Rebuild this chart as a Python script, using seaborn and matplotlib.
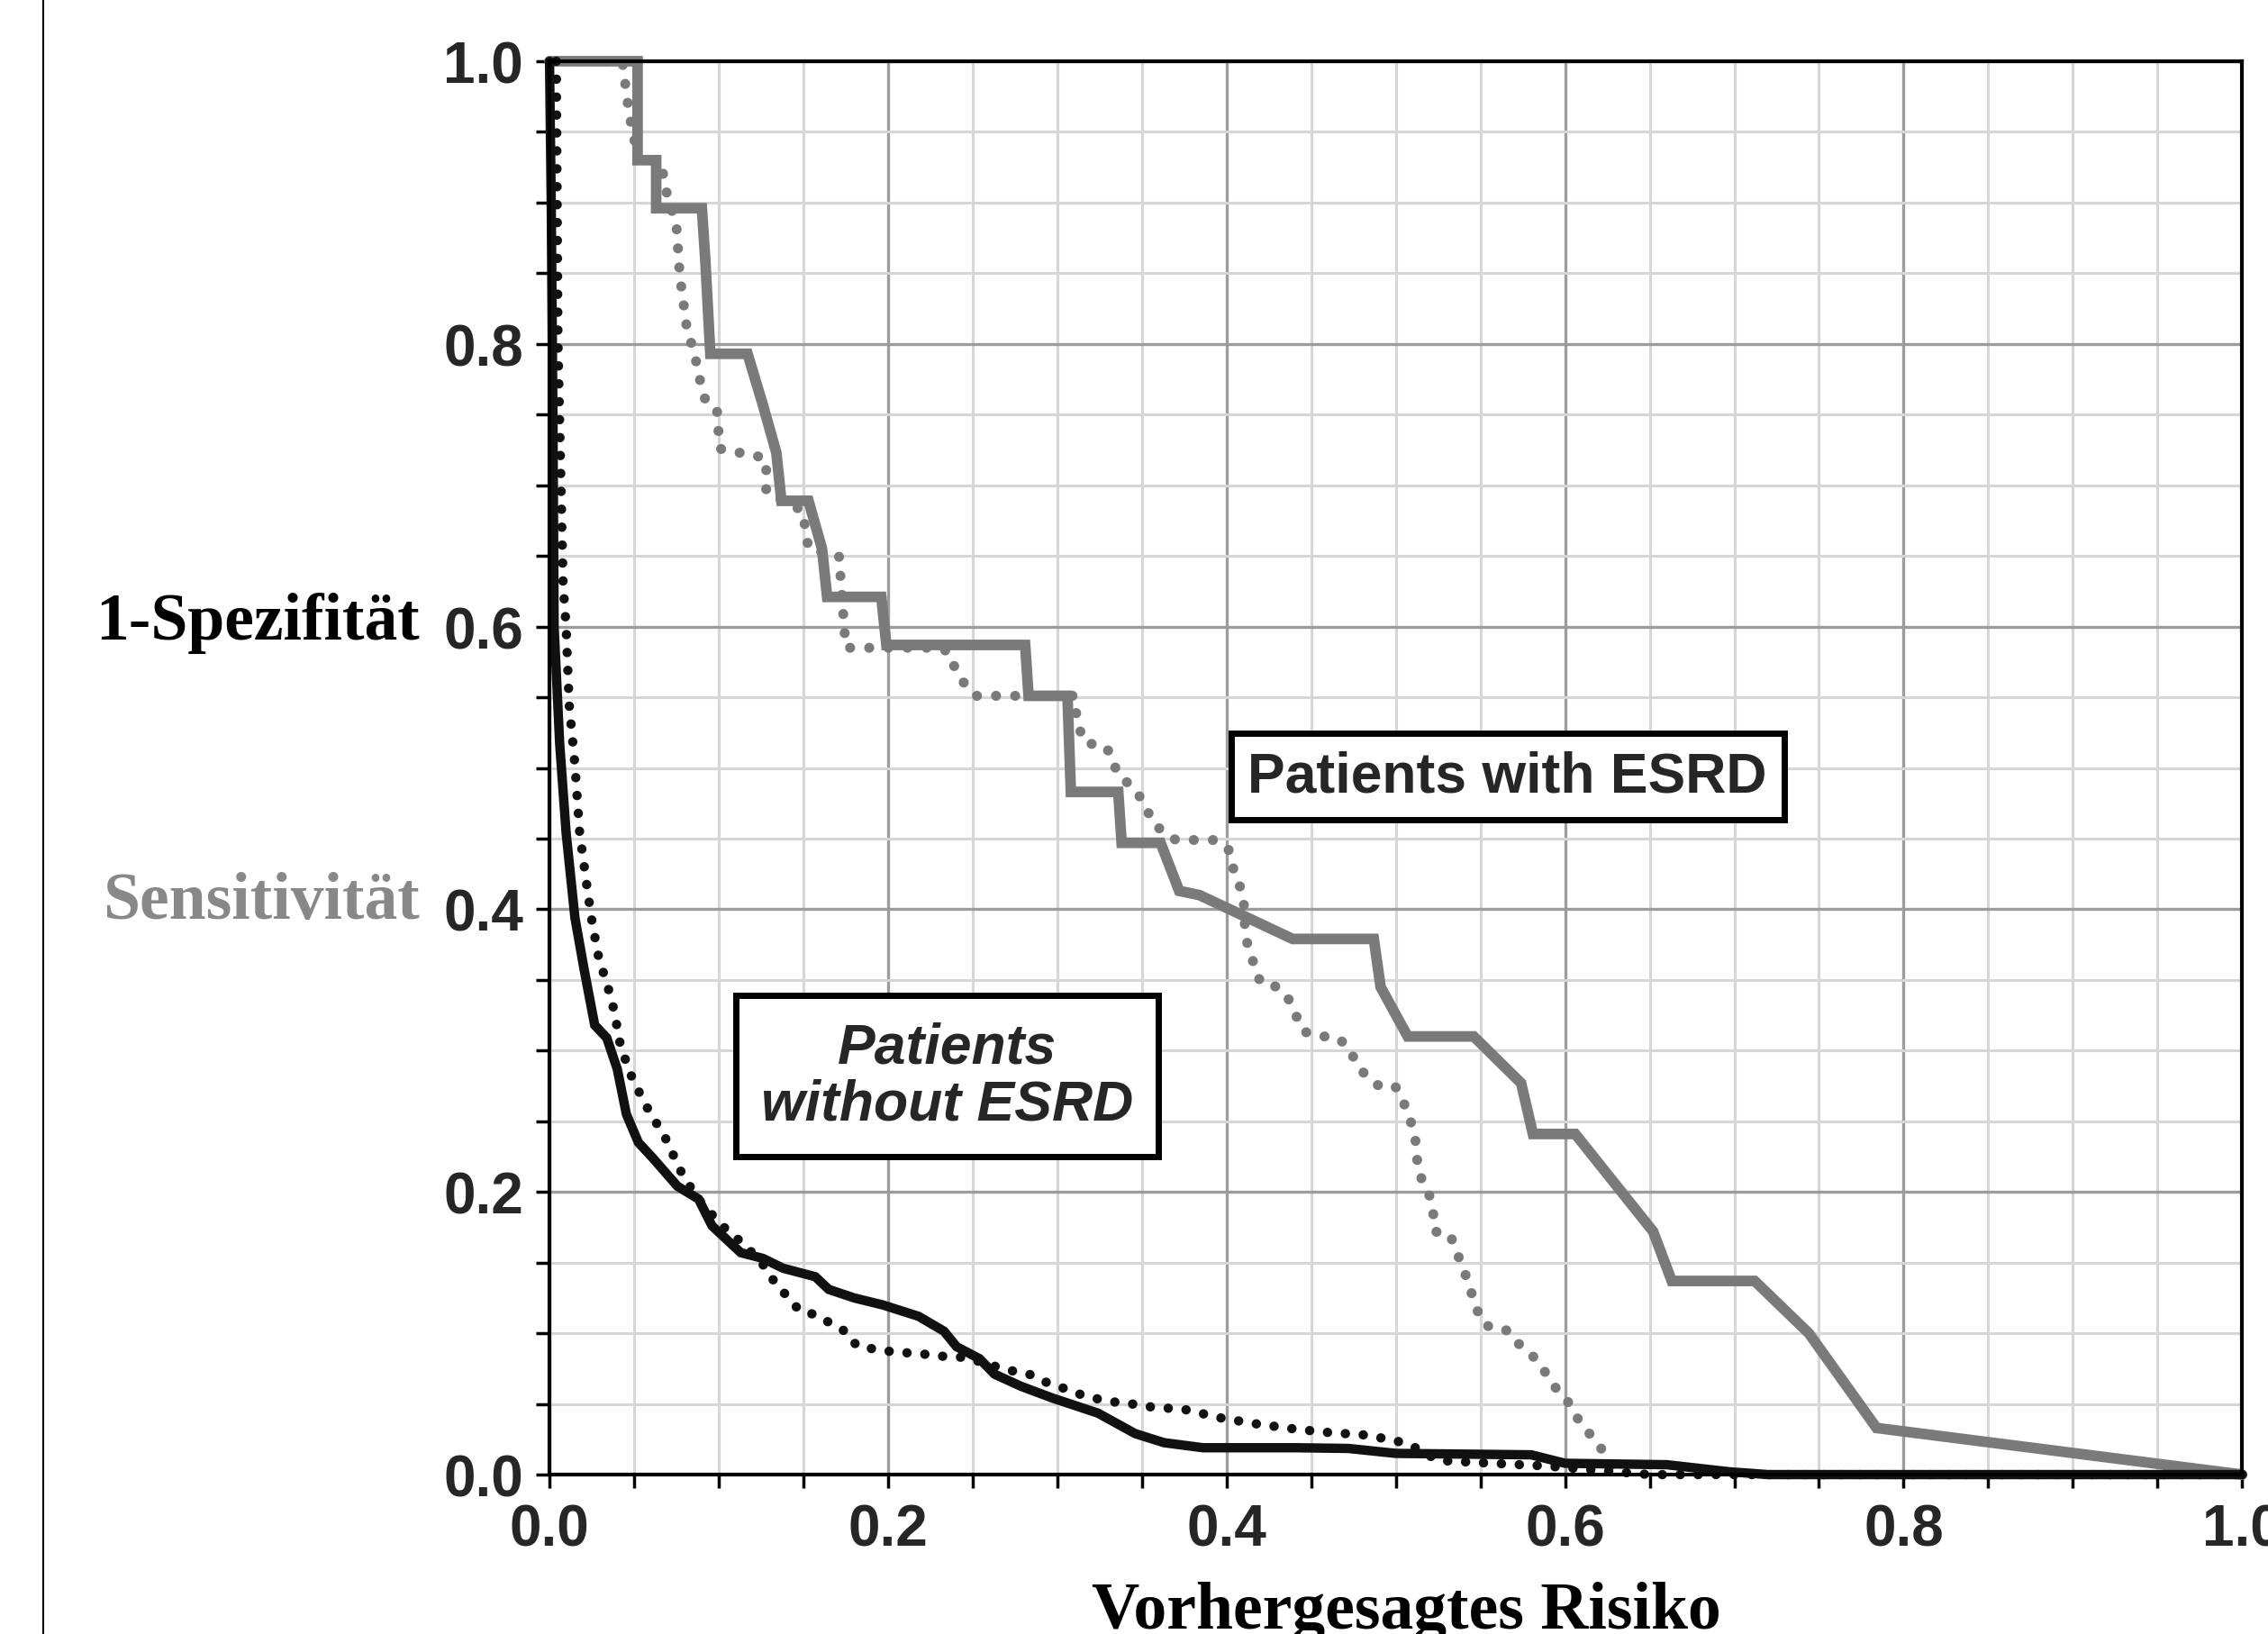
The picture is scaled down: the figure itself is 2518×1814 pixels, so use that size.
import numpy as np
import pandas as pd
import matplotlib
matplotlib.use("Agg")
import matplotlib.pyplot as plt
from matplotlib.lines import Line2D
from matplotlib.ticker import MultipleLocator
import seaborn as sns

# ---------- Data ----------
# gray solid: Sensitivität, model 1
sens1_x = [0, 0.052, 0.052, 0.063, 0.063, 0.090, 0.092, 0.095, 0.117, 0.126, 0.134, 0.137,
           0.153, 0.161, 0.164, 0.196, 0.199, 0.281, 0.283, 0.306, 0.308, 0.336, 0.338,
           0.361, 0.372, 0.384, 0.439, 0.487, 0.491, 0.507, 0.546, 0.574, 0.581, 0.606,
           0.632, 0.652, 0.663, 0.712, 0.744, 0.784, 1.0]
sens1_y = [1.0, 1.0, 0.930, 0.930, 0.896, 0.896, 0.860, 0.793, 0.793, 0.757, 0.723, 0.689,
           0.689, 0.655, 0.621, 0.621, 0.587, 0.587, 0.551, 0.551, 0.483, 0.483, 0.447,
           0.447, 0.413, 0.410, 0.379, 0.379, 0.345, 0.310, 0.310, 0.277, 0.241, 0.241,
           0.202, 0.172, 0.137, 0.137, 0.100, 0.033, 0.0]

# gray dotted: Sensitivität, model 2
sens2_x = [0, 0.043, 0.047, 0.050, 0.052, 0.066, 0.068, 0.075, 0.077, 0.081, 0.086, 0.090,
           0.093, 0.099, 0.1005, 0.108, 0.118, 0.128, 0.128, 0.1495, 0.153, 0.171, 0.1734,
           0.175, 0.185, 0.230, 0.236, 0.240, 0.246, 0.252, 0.274, 0.310, 0.312, 0.317,
           0.326, 0.332, 0.335, 0.347, 0.352, 0.357, 0.370, 0.392, 0.401, 0.403, 0.407,
           0.410, 0.411, 0.413, 0.417, 0.420, 0.430, 0.436, 0.441, 0.445, 0.453, 0.464,
           0.471, 0.4765, 0.482, 0.490, 0.4995, 0.504, 0.508, 0.511, 0.5126, 0.5126, 0.516,
           0.520, 0.522, 0.523, 0.532, 0.536, 0.540, 0.543, 0.547, 0.550, 0.557, 0.566,
           0.573, 0.582, 0.5885, 0.594, 0.601, 0.606, 0.613, 0.620, 0.625, 0.630]
sens2_y = [1.0, 1.0, 0.963, 0.945, 0.930, 0.930, 0.912, 0.883, 0.848, 0.812, 0.791, 0.768,
           0.757, 0.752, 0.726, 0.723, 0.723, 0.718, 0.695, 0.682, 0.655, 0.650, 0.611,
           0.585, 0.585, 0.585, 0.582, 0.569, 0.558, 0.551, 0.551, 0.551, 0.530, 0.517,
           0.517, 0.510, 0.497, 0.483, 0.473, 0.460, 0.449, 0.449, 0.443, 0.432, 0.419,
           0.409, 0.3835, 0.371, 0.359, 0.348, 0.345, 0.338, 0.325, 0.314, 0.310, 0.310,
           0.304, 0.292, 0.2825, 0.275, 0.275, 0.265, 0.253, 0.241, 0.228, 0.217, 0.207,
           0.197, 0.186, 0.172, 0.170, 0.157, 0.146, 0.134, 0.121, 0.109, 0.103, 0.102,
           0.092, 0.0826, 0.072, 0.062, 0.053, 0.042, 0.031, 0.021, 0.011, 0.0]

# black solid: 1-Spezifität, model 1
spec1_x = [0, 0.001, 0.002, 0.0027, 0.006, 0.0098, 0.015, 0.0205, 0.0267, 0.0338, 0.040,
           0.0454, 0.0525, 0.061, 0.0756, 0.088, 0.096, 0.113, 0.126, 0.138, 0.157, 0.165,
           0.180, 0.197, 0.218, 0.233, 0.2405, 0.254, 0.263, 0.2785, 0.2975, 0.324, 0.346,
           0.363, 0.386, 0.441, 0.472, 0.500, 0.580, 0.600, 0.660, 0.697, 0.720, 1.0]
spec1_y = [1.0, 0.90, 0.75, 0.60, 0.517, 0.454, 0.394, 0.357, 0.318, 0.309, 0.287, 0.255,
           0.235, 0.224, 0.204, 0.195, 0.176, 0.157, 0.153, 0.146, 0.140, 0.131, 0.125,
           0.120, 0.112, 0.1015, 0.0905, 0.082, 0.071, 0.0625, 0.054, 0.0435, 0.029,
           0.0226, 0.019, 0.019, 0.0185, 0.015, 0.014, 0.008, 0.007, 0.002, 0.0, 0.0]

# black dotted: 1-Spezifität, model 2
spec2_x = [0.004, 0.005, 0.008, 0.0098, 0.0116, 0.015, 0.0178, 0.022, 0.025, 0.029, 0.0347,
           0.038, 0.042, 0.048, 0.056, 0.063, 0.0685, 0.0774, 0.086, 0.092, 0.1055, 0.115,
           0.128, 0.134, 0.1407, 0.148, 0.158, 0.166, 0.176, 0.1815, 0.191, 0.202, 0.213,
           0.2234, 0.234, 0.244, 0.254, 0.265, 0.2747, 0.285, 0.294, 0.304, 0.314, 0.324,
           0.3336, 0.344, 0.3546, 0.365, 0.3755, 0.397, 0.417, 0.438, 0.458, 0.482, 0.500,
           0.510, 0.525, 0.590, 0.630, 0.650, 1.0]
spec2_y = [1.0, 0.80, 0.63, 0.60, 0.545, 0.502, 0.454, 0.417, 0.392, 0.366, 0.344, 0.329,
           0.303, 0.283, 0.263, 0.249, 0.238, 0.215, 0.198, 0.189, 0.172, 0.163, 0.146,
           0.134, 0.126, 0.1155, 0.113, 0.107, 0.1005, 0.091, 0.089, 0.087, 0.086, 0.085,
           0.0835, 0.083, 0.080, 0.076, 0.073, 0.0705, 0.065, 0.061, 0.0566, 0.0535,
           0.0514, 0.050, 0.048, 0.047, 0.046, 0.040, 0.036, 0.0326, 0.030, 0.028, 0.024,
           0.020, 0.010, 0.006, 0.002, 0.0, 0.0]

major_ticks = [0.0, 0.2, 0.4, 0.6, 0.8, 1.0]
tick_labels = ["0.0", "0.2", "0.4", "0.6", "0.8", "1.0"]

# ---------- Figure ----------
sns.set_style("white")
fig = plt.figure(figsize=(25.18, 18.15), dpi=100)
ax = fig.add_axes([0.2423, 0.0975, 0.7463, 0.8645])

GRAY = "#7a7a7a"
BLACK = "#111111"

# (x, y, colour, dotted, linewidth)
curves = [
    (sens2_x, sens2_y, GRAY, True, 8.0),
    (sens1_x, sens1_y, GRAY, False, 8.5),
    (spec2_x, spec2_y, BLACK, True, 7.5),
    (spec1_x, spec1_y, BLACK, False, 7.5),
]
for i, (xs, ys, col, dotted, lw) in enumerate(curves):
    df = pd.DataFrame({"x": xs, "y": ys})
    sns.lineplot(data=df, x="x", y="y", sort=False, estimator=None, color=col,
                 ax=ax, zorder=3 + i)
    line = ax.lines[-1]
    line.set_linewidth(lw)
    if dotted:
        line.set_linestyle((0, (0.01, 1.9)))
        line.set_dash_capstyle("round")
    else:
        line.set_solid_joinstyle("miter")
    line.set_clip_on(False)

ax.set_xlim(0, 1)
ax.set_ylim(0, 1)
ax.set_xlabel("")
ax.set_ylabel("")

# grid
ax.xaxis.set_minor_locator(MultipleLocator(0.05))
ax.yaxis.set_minor_locator(MultipleLocator(0.05))
ax.set_xticks(major_ticks)
ax.set_yticks(major_ticks)
ax.set_xticklabels(tick_labels)
ax.set_yticklabels(tick_labels)
ax.grid(which="minor", color="#d6d6d6", linewidth=2.2, zorder=0)
ax.grid(which="major", color="#9c9c9c", linewidth=2.4, zorder=1)
ax.set_axisbelow(True)

for s in ax.spines.values():
    s.set_color("black")
    s.set_linewidth(3)
    s.set_zorder(10)

ax.tick_params(which="both", direction="out", length=11, width=2.5, color="black",
               left=True, bottom=True, top=False, right=False)
ax.tick_params(axis="x", which="major", pad=12)
ax.tick_params(axis="y", which="major", pad=10)
for lab in ax.get_xticklabels() + ax.get_yticklabels():
    lab.set_fontfamily("Liberation Sans")
    lab.set_fontweight("bold")
    lab.set_fontsize(46)

# annotation boxes
ax.text(0.566, 0.494, "Patients with ESRD", ha="center", va="center",
        fontsize=45, fontweight="bold", family="Liberation Sans", zorder=20,
        bbox=dict(boxstyle="square,pad=0.3", facecolor="white", edgecolor="black",
                  linewidth=5))
ax.text(0.235, 0.282, "Patients\nwithout ESRD", ha="center", va="center",
        fontsize=45, fontweight="bold", style="italic", family="Liberation Sans",
        linespacing=1.1, zorder=20,
        bbox=dict(boxstyle="square,pad=0.45", facecolor="white", edgecolor="black",
                  linewidth=5))

# axis labels
fig.text(0.185, 0.609, "1-Spezifität", ha="right", va="baseline", fontsize=53,
         fontweight="bold", family="Liberation Serif", color="black")
fig.text(0.185, 0.438, "Sensitivität", ha="right", va="baseline", fontsize=53,
         fontweight="bold", family="Liberation Serif", color="#888888")
fig.text(0.62, 0.004, "Vorhergesagtes Risiko", ha="center", va="baseline", fontsize=53,
         fontweight="bold", family="Liberation Serif", color="black")

# thin frame line at the left edge
fig.add_artist(Line2D([0.0192, 0.0192], [0, 1], color="black", linewidth=1.5))

fig.savefig("out.png", dpi=100, facecolor="white")
